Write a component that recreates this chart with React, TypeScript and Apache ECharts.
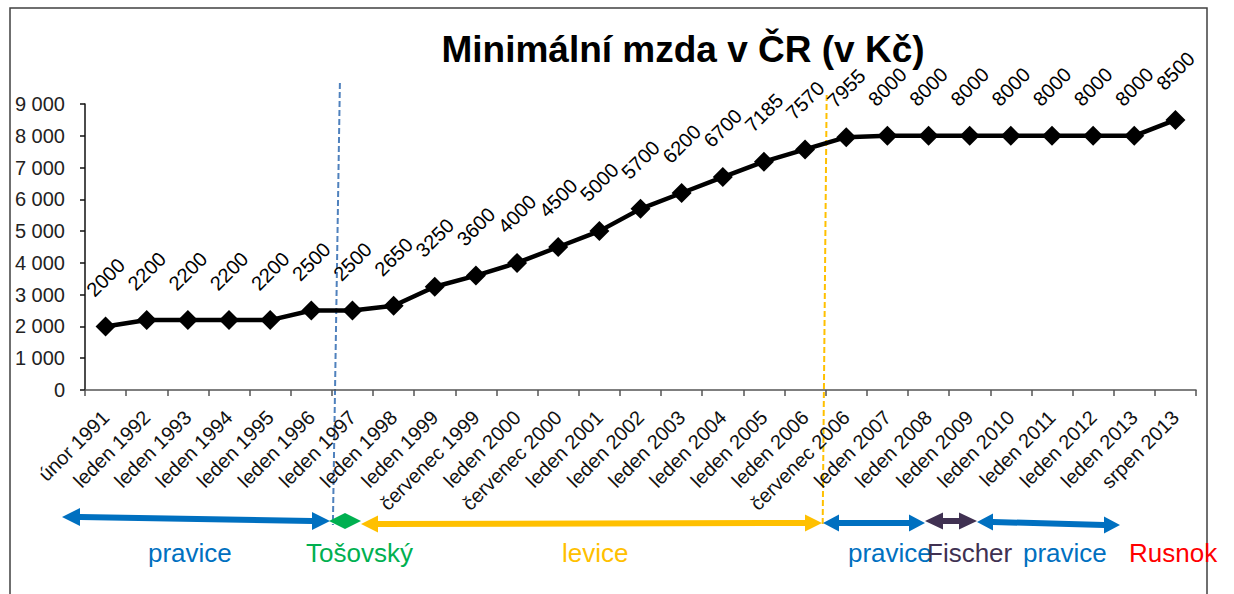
import React, { useEffect, useRef } from "react";
import * as echarts from "echarts";

// ---- data ----
const categories = [
  "únor 1991", "leden 1992", "leden 1993", "leden 1994", "leden 1995", "leden 1996",
  "leden 1997", "leden 1998", "leden 1999", "červenec 1999", "leden 2000", "červenec 2000",
  "leden 2001", "leden 2002", "leden 2003", "leden 2004", "leden 2005", "leden 2006",
  "červenec 2006", "leden 2007", "leden 2008", "leden 2009", "leden 2010", "leden 2011",
  "leden 2012", "leden 2013", "srpen 2013",
];
const wages = [
  2000, 2200, 2200, 2200, 2200, 2500, 2500, 2650, 3250, 3600, 4000, 4500, 5000, 5700,
  6200, 6700, 7185, 7570, 7955, 8000, 8000, 8000, 8000, 8000, 8000, 8000, 8500,
];
const yMin = 0;
const yMax = 9000;
const yStep = 1000;
const titleText = "Minimální mzda v ČR (v Kč)";
const periodNames = ["pravice", "Tošovský", "levice", "pravice", "Fischer", "pravice", "Rusnok"];

const FONT = "'Liberation Sans', Arial, sans-serif";
const BLUE = "#0070C0";
const GREEN = "#00B050";
const ORANGE = "#FFC000";
const PURPLE = "#403152";
const RED = "#FF0000";

function fmtThousands(v: number): string {
  return String(v).replace(/\B(?=(\d{3})+(?!\d))/g, " ");
}

function doubleArrow(x1: number, y1: number, x2: number, y2: number, color: string, L = 17, H = 9, t = 6) {
  return {
    type: "polygon",
    shape: {
      points: [
        [x1, y1], [x1 + L, y1 - H], [x1 + L, y1 - t / 2], [x2 - L, y2 - t / 2], [x2 - L, y2 - H],
        [x2, y2], [x2 - L, y2 + H], [x2 - L, y2 + t / 2], [x1 + L, y1 + t / 2], [x1 + L, y1 + H],
      ],
    },
    style: { fill: color },
    silent: true,
  };
}

function label(text: string, x: number, color: string) {
  return {
    type: "text",
    x,
    y: 553,
    style: { text, fill: color, font: `26px ${FONT}`, textAlign: "left", textVerticalAlign: "middle" },
    silent: true,
  };
}

export default function App() {
  const ref = useRef<HTMLDivElement>(null);
  useEffect(() => {
    if (!ref.current) return;
    const chart = echarts.init(ref.current, null, { renderer: "svg" });
    chart.setOption({
      animation: false,
      backgroundColor: "#fff",
      title: {
        text: titleText,
        left: 683,
        top: 31,
        textAlign: "center",
        padding: 0,
        textStyle: { fontFamily: FONT, fontSize: 37, fontWeight: "bold", color: "#000" },
      },
      grid: { left: 85, right: 38, top: 104, bottom: 204, containLabel: false },
      xAxis: {
        type: "category",
        data: categories,
        axisLine: { lineStyle: { color: "#555", width: 1.5 } },
        axisTick: { show: true, length: 6, lineStyle: { color: "#555", width: 1.5 } },
        axisLabel: {
          interval: 0,
          rotate: 45,
          margin: 24,
          fontFamily: FONT,
          fontSize: 20,
          color: "#111",
        },
      },
      yAxis: {
        type: "value",
        min: yMin,
        max: yMax,
        interval: yStep,
        splitLine: { show: false },
        axisLine: { show: true, lineStyle: { color: "#111", width: 1.5 } },
        axisTick: { show: true, length: 5, lineStyle: { color: "#111", width: 1.5 } },
        axisLabel: {
          margin: 20,
          fontFamily: FONT,
          fontSize: 20,
          color: "#222",
          formatter: (v: number) => fmtThousands(v),
        },
      },
      series: [
        {
          type: "line",
          data: wages,
          symbol: "diamond",
          symbolSize: 20,
          lineStyle: { color: "#000", width: 4.5 },
          itemStyle: { color: "#000" },
          label: {
            show: true,
            position: "top",
            distance: 39,
            rotate: 45,
            align: "center",
            verticalAlign: "middle",
            fontFamily: FONT,
            fontSize: 20,
            color: "#000",
          },
        },
      ],
    });

    const px = (i: number) => chart.convertToPixel({ xAxisIndex: 0 }, i) as number;
    const b1 = (px(5) + px(6)) / 2;
    const b2 = (px(17) + px(18)) / 2;

    chart.setOption({
      graphic: [
        {
          type: "rect",
          shape: { x: 10, y: 8, width: 1197, height: 600 },
          style: { fill: "none", stroke: "#404040", lineWidth: 1.5 },
          silent: true,
        },
        {
          type: "line",
          shape: { x1: b1 + 8, y1: 83, x2: b1 + 1, y2: 525 },
          style: { stroke: "#4F81BD", lineWidth: 2, lineDash: [6, 3] },
          silent: true,
        },
        {
          type: "line",
          shape: { x1: b2 + 1, y1: 95, x2: b2 - 3, y2: 525 },
          style: { stroke: ORANGE, lineWidth: 2, lineDash: [6, 3] },
          silent: true,
        },
        doubleArrow(62, 517, 330, 521, BLUE, 18, 9, 6),
        {
          type: "polygon",
          shape: { points: [[329, 521], [345, 513], [361, 521], [345, 529]] },
          style: { fill: GREEN },
          silent: true,
        },
        doubleArrow(361, 524, 822, 523, ORANGE, 17, 8.5, 6),
        doubleArrow(823, 523, 925, 523, BLUE, 16, 8.5, 6),
        doubleArrow(925, 521, 977, 521, PURPLE, 18, 8.5, 6),
        doubleArrow(977, 522, 1120, 525, BLUE, 16, 8.5, 6),
        label(periodNames[0], 148, BLUE),
        label(periodNames[1], 306, GREEN),
        label(periodNames[2], 562, ORANGE),
        label(periodNames[3], 848, BLUE),
        label(periodNames[4], 927, PURPLE),
        label(periodNames[5], 1023, BLUE),
        label(periodNames[6], 1129, RED),
      ],
    });
    return () => chart.dispose();
  }, []);
  return (
    <div
      ref={ref}
      style={{ position: "absolute", left: 0, top: 0, width: 1234, height: 594, background: "#fff" }}
    />
  );
}
